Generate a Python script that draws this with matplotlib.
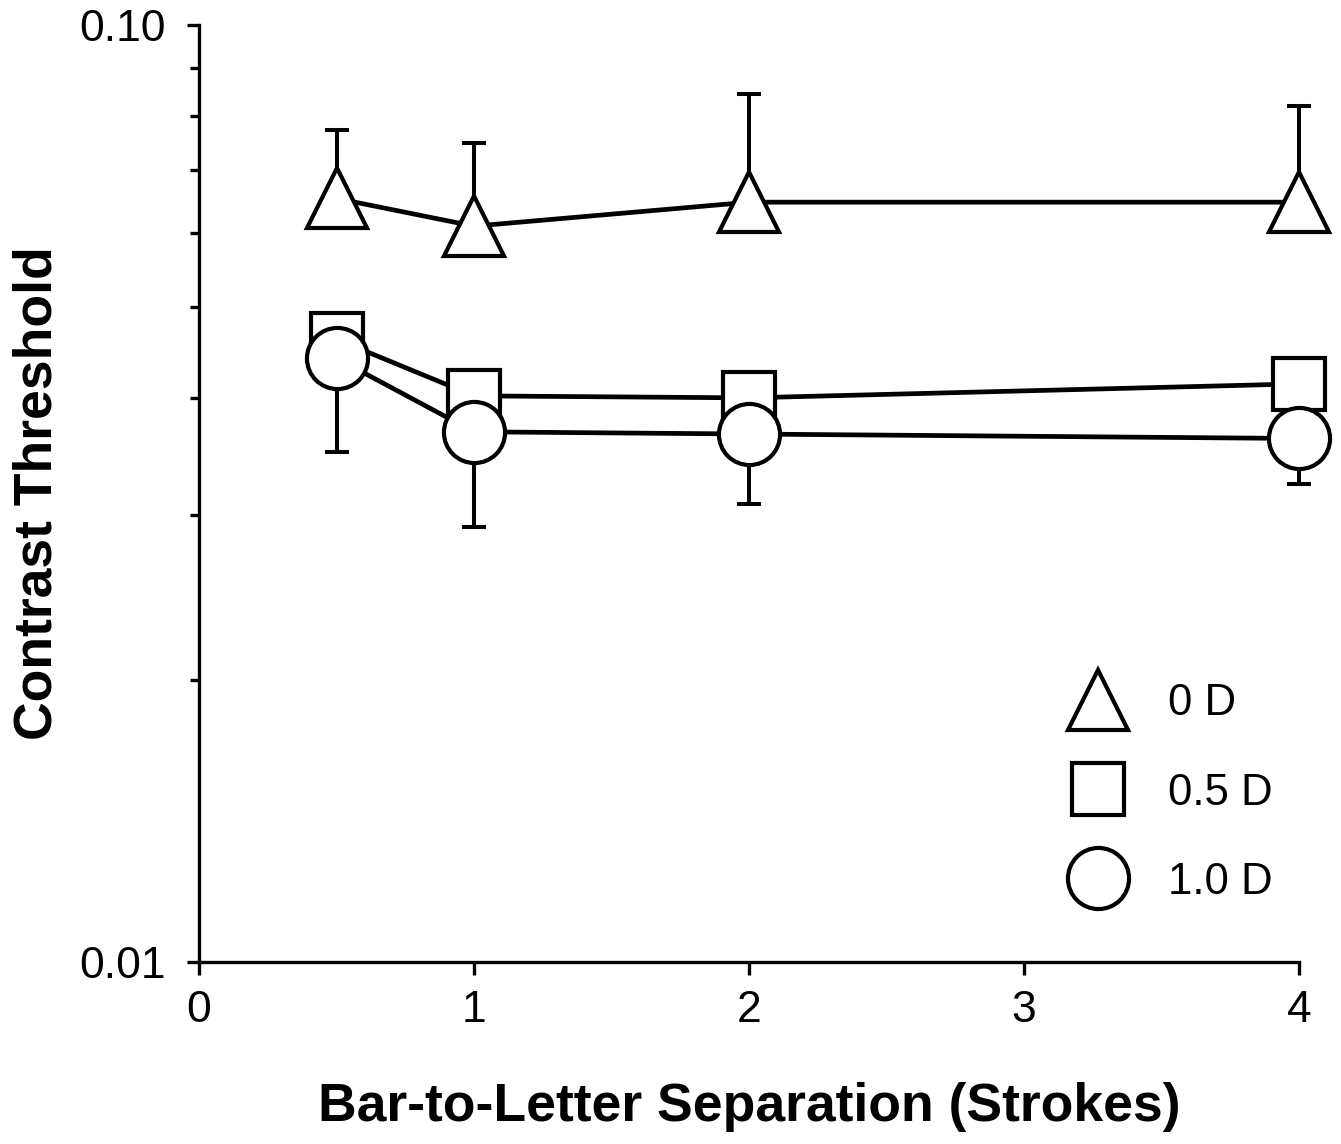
import numpy as np
import matplotlib
matplotlib.use('Agg')
import matplotlib.pyplot as plt
from matplotlib.lines import Line2D
from matplotlib.ticker import FixedLocator, NullFormatter

plt.rcParams['font.family'] = ['Liberation Sans', 'DejaVu Sans']

# separation in strokes
sep = [0.5, 1, 2, 4]

# contrast thresholds per defocus level
thr_0D = [0.0653, 0.0610, 0.0647, 0.0647]
thr_05D = [0.0462, 0.0402, 0.0400, 0.0414]
thr_10D = [0.0441, 0.0368, 0.0366, 0.0362]

# error bar ends (0 D: upper only, 1.0 D: lower only)
top_0D = [0.0773, 0.0748, 0.0844, 0.0820]
bot_10D = [0.0350, 0.0291, 0.0308, 0.0324]

labels = ['0 D', '0.5 D', '1.0 D']

fig = plt.figure(figsize=(13.41, 11.44), dpi=100)
ax = fig.add_axes([199/1341, 1 - 962/1144, 1100/1341, 937/1144])

lw = 3.4
ms_tri, ms_sq, ms_circ = 43, 38, 44
err_kw = dict(fmt='none', ecolor='black', elinewidth=2.9, capsize=8.3,
              capthick=2.9, zorder=1, clip_on=False)

up = np.array(top_0D) - np.array(thr_0D)
ax.errorbar(sep, thr_0D, yerr=[np.zeros(4), up], **err_kw)
lo = np.array(thr_10D) - np.array(bot_10D)
ax.errorbar(sep, thr_10D, yerr=[lo, np.zeros(4)], **err_kw)

ax.plot(sep, thr_0D, color='black', lw=lw, marker='^', ms=ms_tri, mfc='white',
        mec='black', mew=3.0, zorder=3, clip_on=False)
ax.plot(sep, thr_05D, color='black', lw=lw, marker='s', ms=ms_sq, mfc='white',
        mec='black', mew=3.0, zorder=4, clip_on=False)
ax.plot(sep, thr_10D, color='black', lw=lw, marker='o', ms=ms_circ, mfc='white',
        mec='black', mew=3.0, zorder=5, clip_on=False)

ax.set_yscale('log')
ax.set_ylim(0.01, 0.10)
ax.set_xlim(0, 4)
ax.set_xticks([0, 1, 2, 3, 4])
ax.yaxis.set_major_locator(FixedLocator([0.01, 0.1]))
ax.set_yticklabels(['0.01', '0.10'])
ax.yaxis.set_minor_locator(FixedLocator([0.02, 0.03, 0.04, 0.05, 0.06, 0.07, 0.08, 0.09]))
ax.yaxis.set_minor_formatter(NullFormatter())

for s in ['top', 'right']:
    ax.spines[s].set_visible(False)
for s in ['left', 'bottom']:
    ax.spines[s].set_linewidth(2.4)

ax.tick_params(axis='both', which='major', direction='out', length=9,
               width=2.4, labelsize=32)
ax.tick_params(axis='y', which='major', pad=15)
ax.tick_params(axis='x', which='major', pad=11)
ax.tick_params(axis='y', which='minor', direction='out', length=6.5, width=2.4)

ax.set_xlabel('Bar-to-Letter Separation (Strokes)', fontsize=38.5, fontweight='bold')
ax.set_ylabel('Contrast Threshold', fontsize=38.5, fontweight='bold')
ax.xaxis.set_label_coords(0.5, -0.128)
ax.yaxis.set_label_coords(-0.124, 0.5)

handles = [
    Line2D([], [], ls='none', marker='^', ms=ms_tri, mfc='white', mec='black', mew=3.0),
    Line2D([], [], ls='none', marker='s', ms=ms_sq, mfc='white', mec='black', mew=3.0),
    Line2D([], [], ls='none', marker='o', ms=ms_circ, mfc='white', mec='black', mew=3.0),
]
ax.legend(handles, labels, loc='upper left', bbox_to_anchor=(1076/1341, 0.4026),
          bbox_transform=fig.transFigure, frameon=False, fontsize=31.5,
          handlelength=1.0, handletextpad=1.1, labelspacing=1.1,
          borderpad=0, borderaxespad=0)

fig.savefig('out.png', dpi=100)
